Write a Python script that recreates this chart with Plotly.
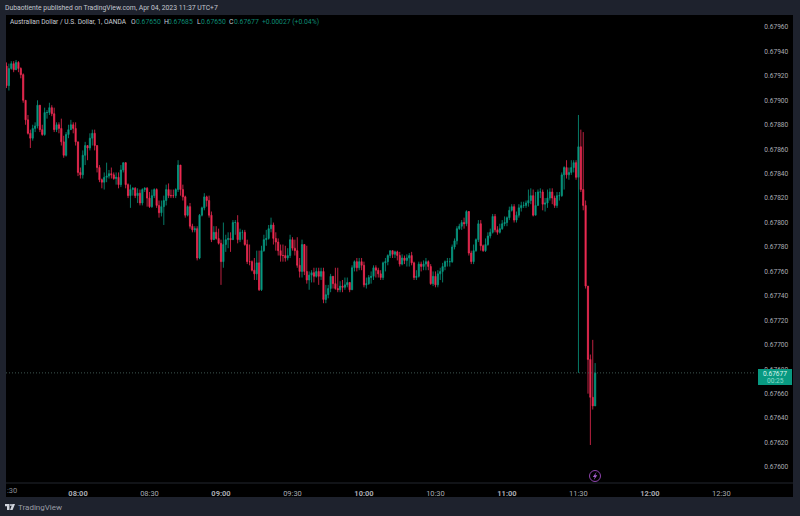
import pandas as pd
import plotly.graph_objects as go

first_open = 0.67928
start_time = "2023-04-04 07:30"

closes = [
0.67912,0.67926,0.67930,0.67925,0.67931,0.67926,0.67921,0.67900,0.67884,0.67873,
0.67869,0.67877,0.67879,0.67896,0.67876,0.67872,0.67890,0.67890,0.67894,0.67889,
0.67876,0.67880,0.67877,0.67866,0.67855,0.67872,0.67876,0.67880,0.67877,0.67866,
0.67841,0.67839,0.67855,0.67863,0.67861,0.67869,0.67873,0.67863,0.67845,0.67835,
0.67833,0.67837,0.67838,0.67840,0.67839,0.67836,0.67837,0.67831,0.67843,0.67849,
0.67831,0.67822,0.67827,0.67828,0.67822,0.67824,0.67816,0.67827,0.67828,0.67820,
0.67813,0.67822,0.67827,0.67814,0.67808,0.67813,0.67818,0.67827,0.67822,0.67822,
0.67822,0.67827,0.67847,0.67827,0.67821,0.67806,0.67813,0.67797,0.67794,0.67795,
0.67771,0.67806,0.67812,0.67821,0.67818,0.67806,0.67786,0.67792,0.67787,0.67783,
0.67768,0.67782,0.67786,0.67787,0.67786,0.67800,0.67800,0.67786,0.67792,0.67792,
0.67782,0.67768,0.67768,0.67761,0.67758,0.67767,0.67745,0.67777,0.67786,0.67787,
0.67795,0.67798,0.67787,0.67784,0.67777,0.67773,0.67773,0.67771,0.67773,0.67786,
0.67779,0.67777,0.67765,0.67760,0.67782,0.67760,0.67753,0.67757,0.67759,0.67756,
0.67760,0.67756,0.67760,0.67737,0.67741,0.67746,0.67756,0.67750,0.67746,0.67745,
0.67748,0.67747,0.67749,0.67751,0.67745,0.67763,0.67768,0.67763,0.67768,0.67765,
0.67749,0.67750,0.67755,0.67756,0.67763,0.67761,0.67758,0.67755,0.67767,0.67768,
0.67773,0.67777,0.67774,0.67776,0.67773,0.67766,0.67771,0.67769,0.67771,0.67773,
0.67767,0.67755,0.67756,0.67766,0.67764,0.67766,0.67768,0.67764,0.67750,0.67756,
0.67749,0.67758,0.67760,0.67764,0.67768,0.67768,0.67768,0.67780,0.67785,0.67795,
0.67797,0.67800,0.67799,0.67809,0.67775,0.67768,0.67777,0.67786,0.67799,0.67781,
0.67777,0.67782,0.67789,0.67792,0.67805,0.67794,0.67792,0.67795,0.67799,0.67800,
0.67804,0.67810,0.67813,0.67802,0.67806,0.67812,0.67814,0.67814,0.67816,0.67818,
0.67822,0.67806,0.67814,0.67825,0.67825,0.67815,0.67816,0.67820,0.67825,0.67820,
0.67814,0.67822,0.67822,0.67839,0.67845,0.67839,0.67841,0.67845,0.67849,0.67837,
0.67862,0.67827,0.67814,0.67748,0.67688,0.67657,0.67650,0.67677,
]

highs = [
0.67931,0.67930,0.67932,0.67932,0.67933,0.67932,0.67927,0.67922,0.67900,0.67888,
0.67876,0.67880,0.67882,0.67900,0.67896,0.67880,0.67894,0.67892,0.67898,0.67896,
0.67894,0.67882,0.67882,0.67885,0.67871,0.67874,0.67880,0.67884,0.67882,0.67882,
0.67866,0.67845,0.67859,0.67866,0.67863,0.67873,0.67876,0.67876,0.67863,0.67847,
0.67836,0.67841,0.67849,0.67843,0.67845,0.67841,0.67841,0.67841,0.67847,0.67849,
0.67847,0.67832,0.67831,0.67829,0.67829,0.67828,0.67827,0.67828,0.67829,0.67829,
0.67825,0.67827,0.67828,0.67828,0.67818,0.67818,0.67822,0.67831,0.67832,0.67827,
0.67827,0.67828,0.67851,0.67846,0.67831,0.67822,0.67814,0.67816,0.67799,0.67797,
0.67797,0.67807,0.67813,0.67824,0.67822,0.67822,0.67809,0.67797,0.67797,0.67795,
0.67786,0.67800,0.67790,0.67792,0.67792,0.67802,0.67802,0.67806,0.67795,0.67794,
0.67794,0.67786,0.67782,0.67769,0.67771,0.67777,0.67777,0.67781,0.67790,0.67794,
0.67798,0.67804,0.67800,0.67792,0.67787,0.67782,0.67782,0.67781,0.67779,0.67790,
0.67788,0.67786,0.67788,0.67771,0.67786,0.67777,0.67781,0.67760,0.67761,0.67763,
0.67763,0.67763,0.67763,0.67763,0.67749,0.67749,0.67758,0.67756,0.67763,0.67763,
0.67752,0.67753,0.67755,0.67755,0.67751,0.67765,0.67769,0.67771,0.67771,0.67771,
0.67768,0.67755,0.67757,0.67760,0.67765,0.67765,0.67763,0.67761,0.67768,0.67771,
0.67774,0.67777,0.67777,0.67777,0.67777,0.67776,0.67774,0.67773,0.67774,0.67775,
0.67776,0.67768,0.67761,0.67768,0.67768,0.67769,0.67771,0.67769,0.67766,0.67760,
0.67760,0.67761,0.67763,0.67767,0.67769,0.67771,0.67771,0.67782,0.67787,0.67797,
0.67799,0.67802,0.67804,0.67810,0.67808,0.67777,0.67782,0.67787,0.67802,0.67802,
0.67782,0.67787,0.67792,0.67795,0.67807,0.67807,0.67797,0.67799,0.67802,0.67805,
0.67805,0.67813,0.67815,0.67815,0.67809,0.67815,0.67817,0.67817,0.67818,0.67827,
0.67828,0.67827,0.67825,0.67827,0.67828,0.67827,0.67820,0.67827,0.67828,0.67828,
0.67822,0.67825,0.67825,0.67841,0.67846,0.67851,0.67845,0.67851,0.67851,0.67851,
0.67888,0.67876,0.67874,0.67818,0.67748,0.67692,0.67704,0.67685,
]

lows = [
0.67910,0.67908,0.67925,0.67923,0.67925,0.67923,0.67918,0.67898,0.67880,0.67872,
0.67861,0.67867,0.67874,0.67877,0.67874,0.67871,0.67871,0.67885,0.67888,0.67887,
0.67874,0.67874,0.67873,0.67863,0.67853,0.67854,0.67869,0.67876,0.67873,0.67863,
0.67838,0.67836,0.67836,0.67847,0.67851,0.67859,0.67863,0.67859,0.67841,0.67833,
0.67828,0.67827,0.67833,0.67836,0.67836,0.67835,0.67831,0.67828,0.67829,0.67841,
0.67828,0.67820,0.67812,0.67822,0.67820,0.67816,0.67814,0.67814,0.67825,0.67813,
0.67812,0.67812,0.67820,0.67812,0.67804,0.67805,0.67798,0.67814,0.67820,0.67820,
0.67820,0.67820,0.67825,0.67822,0.67818,0.67804,0.67805,0.67795,0.67792,0.67792,
0.67769,0.67770,0.67805,0.67810,0.67813,0.67804,0.67784,0.67786,0.67786,0.67782,
0.67749,0.67763,0.67776,0.67779,0.67776,0.67786,0.67790,0.67783,0.67784,0.67786,
0.67781,0.67766,0.67765,0.67760,0.67753,0.67753,0.67744,0.67744,0.67776,0.67781,
0.67786,0.67792,0.67782,0.67777,0.67773,0.67768,0.67768,0.67768,0.67769,0.67771,
0.67777,0.67773,0.67763,0.67755,0.67755,0.67757,0.67750,0.67745,0.67751,0.67751,
0.67755,0.67749,0.67753,0.67734,0.67734,0.67738,0.67743,0.67746,0.67745,0.67743,
0.67743,0.67743,0.67745,0.67747,0.67743,0.67745,0.67760,0.67760,0.67761,0.67761,
0.67747,0.67746,0.67749,0.67750,0.67753,0.67755,0.67755,0.67753,0.67753,0.67760,
0.67765,0.67771,0.67771,0.67771,0.67769,0.67764,0.67765,0.67766,0.67764,0.67764,
0.67765,0.67753,0.67753,0.67755,0.67760,0.67761,0.67761,0.67761,0.67749,0.67748,
0.67747,0.67747,0.67753,0.67751,0.67761,0.67764,0.67764,0.67767,0.67778,0.67782,
0.67794,0.67794,0.67795,0.67797,0.67773,0.67766,0.67766,0.67776,0.67784,0.67777,
0.67776,0.67776,0.67781,0.67787,0.67791,0.67792,0.67790,0.67791,0.67794,0.67797,
0.67797,0.67802,0.67809,0.67800,0.67800,0.67804,0.67809,0.67812,0.67812,0.67813,
0.67815,0.67805,0.67806,0.67814,0.67820,0.67810,0.67809,0.67812,0.67818,0.67815,
0.67812,0.67812,0.67818,0.67821,0.67827,0.67836,0.67835,0.67839,0.67841,0.67835,
0.67677,0.67825,0.67810,0.67746,0.67660,0.67618,0.67647,0.67650,
]

opens = [first_open] + closes[:-1]
times = pd.date_range(start_time, periods=len(closes), freq="1min")

price_ticks = [0.67600,0.67620,0.67640,0.67660,0.67680,0.67700,0.67720,0.67740,0.67760,
               0.67780,0.67800,0.67820,0.67840,0.67860,0.67880,0.67900,0.67920,0.67940,0.67960]
time_ticks = ["2023-04-04 08:00","2023-04-04 08:30","2023-04-04 09:00","2023-04-04 09:30",
              "2023-04-04 10:00","2023-04-04 10:30","2023-04-04 11:00","2023-04-04 11:30",
              "2023-04-04 12:00","2023-04-04 12:30"]
time_labels = ["<b>08:00</b>","08:30","<b>09:00</b>","09:30","<b>10:00</b>","10:30",
               "<b>11:00</b>","11:30","<b>12:00</b>","12:30"]

last_price = closes[-1]
W, H = 800, 516
L, R, T, B = 6, 755, 15, 483
FONT = "Roboto"
UP, DOWN = "#089981", "#ee2b52"


def px(x):
    return (x - L) / (R - L)


def py(y):
    return 1 - (y - T) / (B - T)


fig = go.Figure(go.Candlestick(
    x=times, open=opens, high=highs, low=lows, close=closes,
    increasing=dict(line=dict(color=UP, width=0.8), fillcolor=UP),
    decreasing=dict(line=dict(color=DOWN, width=0.8), fillcolor=DOWN),
    whiskerwidth=0, showlegend=False, hoverinfo="skip",
))


def rect(x0, y0, x1, y1, color, layer="below"):
    return dict(type="rect", xref="paper", yref="paper", x0=px(x0), x1=px(x1), y0=py(y0), y1=py(y1),
                fillcolor=color, line=dict(width=0), layer=layer)


def path(points, color):
    d = "M" + " L".join(f"{px(a):.5f},{py(b):.5f}" for a, b in points) + " Z"
    return dict(type="path", xref="paper", yref="paper", path=d, fillcolor=color, line=dict(width=0), layer="above")


shapes = [
    rect(R, T, 793, 497, "#000000"),
    rect(L, B, R, 497, "#000000"),
    dict(type="line", xref="paper", yref="paper", x0=px(L), x1=px(793), y0=py(B), y1=py(B),
         line=dict(color="#23262e", width=1), layer="below"),
    dict(type="line", xref="paper", yref="y", x0=0, x1=1, y0=last_price, y1=last_price,
         line=dict(color="#3d5550", width=1, dash="1px,2px"), layer="above"),
    rect(758, 369, 792, 385, "#089981", "above"),
    dict(type="circle", xref="paper", yref="paper", x0=px(589.5), x1=px(600.5), y0=py(470.5), y1=py(481.5),
         fillcolor="rgba(0,0,0,0)", line=dict(color="#8e44ad", width=1), layer="above"),
    path([(596.5, 472), (592.8, 477), (594.8, 477), (593.8, 480), (597.3, 475.3), (595.2, 475.3)], "#a75fd0"),
    path([(5, 504), (9.5, 504), (9.5, 510), (7, 510), (7, 506.3), (5, 506.3)], "#d1d4dc"),
    path([(15, 504), (12.6, 510), (10, 510), (12.4, 504)], "#d1d4dc"),
    dict(type="circle", xref="paper", yref="paper", x0=px(10), x1=px(12), y0=py(504), y1=py(506),
         fillcolor="#d1d4dc", line=dict(width=0), layer="above"),
]


def note(text, x, y, size=7.2, color="#b2b5be", anchor="left"):
    return dict(text=text, x=px(x), y=py(y), xref="paper", yref="paper", xanchor=anchor, yanchor="middle",
                showarrow=False, font=dict(family=FONT, size=size, color=color), align="left",
                borderpad=0, borderwidth=0)


TEAL = "#0d8a73"
annotations = [
    note("Dubaotiente published on TradingView.com, Apr 04, 2023 11:37 UTC+7", 5, 8, 6.8, "#c3c6ce"),
    note("Australian Dollar / U.S. Dollar, 1, OANDA", 10, 22, 6.6, "#c9ccd4"),
    note("O", 131, 22, 6.8, "#c9ccd4"), note("0.67650", 136, 22, 6.8, TEAL),
    note("H", 164, 22, 6.8, "#c9ccd4"), note("0.67685", 168, 22, 6.8, TEAL),
    note("L", 197, 22, 6.8, "#c9ccd4"), note("0.67650", 201, 22, 6.8, TEAL),
    note("C", 229, 22, 6.8, "#c9ccd4"), note("0.67677", 234, 22, 6.8, TEAL),
    note("+0.00027 (+0.04%)", 262, 22, 6.8, TEAL),
    note(":30", 6.5, 490.5, 7.5, "#8a8d95"),
    note("0.67677", 775, 373.5, 6.6, "#d8f3ec", "center"),
    note("00:25", 775, 381, 6.6, "#8fdccb", "center"),
    note("TradingView", 18, 507, 8, "#9a9da5"),
]

fig.update_layout(
    width=W, height=H, autosize=False,
    margin=dict(l=L, r=W - R, t=T, b=H - B),
    paper_bgcolor="#1e222d", plot_bgcolor="#000000",
    font=dict(family=FONT, size=7.5, color="#b2b5be"),
    shapes=shapes, annotations=annotations, hovermode=False,
    xaxis=dict(
        type="date", range=["2023-04-04 07:29:47", "2023-04-04 12:44:05"],
        rangeslider=dict(visible=False), showgrid=False, zeroline=False, showline=False,
        tickmode="array", tickvals=time_ticks, ticktext=time_labels,
        ticks="outside", ticklen=3, tickcolor="rgba(0,0,0,0)", tickangle=0,
        tickfont=dict(family=FONT, size=7.5, color="#a8abb3"),
    ),
    yaxis=dict(
        side="right", range=[0.675869, 0.679698], showgrid=False, zeroline=False, showline=False,
        tickmode="array", tickvals=price_ticks, ticktext=[f"{v:.5f}" for v in price_ticks],
        ticks="outside", ticklen=7, tickcolor="rgba(0,0,0,0)",
        tickfont=dict(family=FONT, size=6.6, color="#a8abb3"),
    ),
)

fig.write_html("out.html", config=dict(displayModeBar=False),
               post_script="document.body.style.margin='0';document.body.style.background='#1e222d';")
